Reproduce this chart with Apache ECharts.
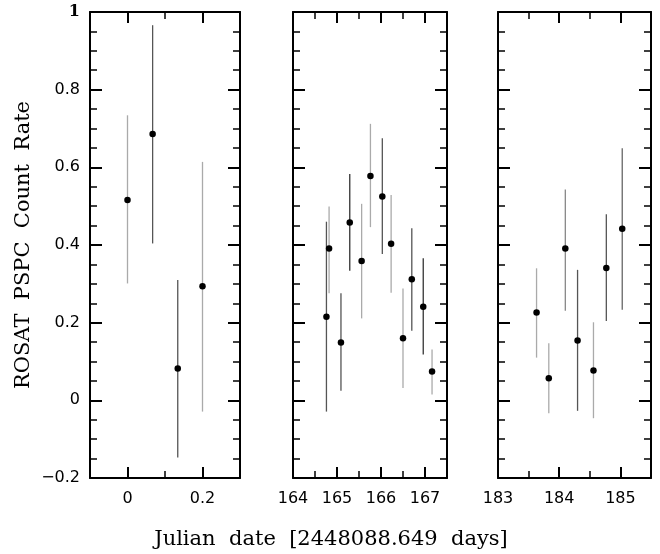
<!DOCTYPE html>
<html>
<head>
<meta charset="utf-8">
<script src="https://cdn.jsdelivr.net/npm/echarts@6/dist/echarts.min.js"></script>
<style>html,body{margin:0;padding:0;background:#fff}#c{width:660px;height:554px}</style>
</head>
<body>
<div id="c"></div>
<script>
// ---- data ----
const p1X  = [0, 0.067, 0.134, 0.2];
const p1Y  = [0.516, 0.686, 0.082, 0.294];
const p1Lo = [0.301, 0.404, -0.147, -0.029];
const p1Hi = [0.734, 0.966, 0.310, 0.614];

const p2X  = [164.76, 164.82, 165.09, 165.29, 165.56, 165.76, 166.03, 166.23, 166.50, 166.70, 166.96, 167.16];
const p2Y  = [0.215, 0.391, 0.149, 0.458, 0.359, 0.578, 0.525, 0.403, 0.160, 0.312, 0.241, 0.074];
const p2Lo = [-0.029, 0.276, 0.025, 0.334, 0.211, 0.446, 0.377, 0.277, 0.032, 0.179, 0.118, 0.015];
const p2Hi = [0.460, 0.499, 0.276, 0.583, 0.506, 0.712, 0.675, 0.529, 0.288, 0.443, 0.366, 0.131];

const p3X  = [183.63, 183.83, 184.10, 184.30, 184.56, 184.77, 185.03];
const p3Y  = [0.226, 0.057, 0.391, 0.154, 0.077, 0.341, 0.442];
const p3Lo = [0.110, -0.033, 0.231, -0.027, -0.046, 0.204, 0.233];
const p3Hi = [0.340, 0.147, 0.543, 0.336, 0.201, 0.479, 0.649];

const p1TickLabels = [0, 0.2];
const p2TickLabels = [164, 165, 166, 167];
const p3TickLabels = [183, 184, 185];
const yTickLabels = [-0.2, 0, 0.2, 0.4, 0.6, 0.8, 1];

const yTitle = 'ROSAT  PSPC  Count  Rate';
const xTitle = 'Julian  date  [2448088.649  days]';

// ---- styles ----
const p1Tone = ['#aaaaaa', '#555555', '#555555', '#aaaaaa'];
const p2Tone = ['#555555', '#aaaaaa', '#555555', '#333333', '#aaaaaa', '#aaaaaa', '#555555', '#aaaaaa', '#aaaaaa', '#555555', '#333333', '#aaaaaa'];
const p3Tone = ['#aaaaaa', '#aaaaaa', '#888888', '#555555', '#aaaaaa', '#555555', '#666666'];

const panels = [
  {x: p1X, y: p1Y, lo: p1Lo, hi: p1Hi, tone: p1Tone, labels: p1TickLabels, min: -0.1, max: 0.3, minorStep: 0.1, left: 90, width: 150},
  {x: p2X, y: p2Y, lo: p2Lo, hi: p2Hi, tone: p2Tone, labels: p2TickLabels, min: 164, max: 167.5, minorStep: 0.5, left: 293, width: 154},
  {x: p3X, y: p3Y, lo: p3Lo, hi: p3Hi, tone: p3Tone, labels: p3TickLabels, min: 183, max: 185.5, minorStep: 0.5, left: 498, width: 153}
];

const black = '#000';
const grids = [], xAxes = [], yAxes = [], series = [];
const fmtY = v => {
  if (v === 1) return '{b|1}';
  return v < 0 ? '\u2212' + Math.abs(v) : String(+v.toFixed(2));
};

panels.forEach((p, i) => {
  grids.push({left: p.left, width: p.width, top: 12, height: 466, show: false});
  const xBase = {gridIndex: i, type: 'value', min: p.min, max: p.max, splitLine: {show: false}, interval: p.minorStep};
  xAxes.push(Object.assign({}, xBase, {
    position: 'bottom',
    axisLine: {show: true, onZero: false, lineStyle: {color: black, width: 2}},
    axisTick: {show: true, inside: true, length: 7, lineStyle: {color: black, width: 1.5}},
    axisLabel: {show: true, customValues: p.labels, color: black, fontSize: 16, fontFamily: 'DejaVu Sans', margin: 13,
      formatter: v => String(+(+v).toFixed(2))}
  }));
  xAxes.push(Object.assign({}, xBase, {
    position: 'bottom',
    axisLine: {show: false, onZero: false},
    axisTick: {show: true, inside: true, length: 11, customValues: p.labels, lineStyle: {color: black, width: 2}},
    axisLabel: {show: false}
  }));
  xAxes.push(Object.assign({}, xBase, {
    position: 'top',
    axisLine: {show: true, onZero: false, lineStyle: {color: black, width: 2}},
    axisTick: {show: true, inside: true, length: 7, lineStyle: {color: black, width: 1.5}},
    axisLabel: {show: false}
  }));
  xAxes.push(Object.assign({}, xBase, {
    position: 'top',
    axisLine: {show: false, onZero: false},
    axisTick: {show: true, inside: true, length: 11, customValues: p.labels, lineStyle: {color: black, width: 2}},
    axisLabel: {show: false}
  }));
  ['left', 'right'].forEach(pos => {
    yAxes.push({
      gridIndex: i, type: 'value', min: -0.2, max: 1, interval: 0.2, position: pos,
      splitLine: {show: false},
      axisLine: {show: true, onZero: false, lineStyle: {color: black, width: 2}},
      axisTick: {show: true, inside: true, length: 12, lineStyle: {color: black, width: 2}},
      minorTick: {show: true, splitNumber: 4, length: 7, lineStyle: {color: black, width: 1.5}},
      axisLabel: (i === 0 && pos === 'left') ? {show: true, color: black, fontSize: 16, fontFamily: 'DejaVu Sans', margin: 10,
        customValues: yTickLabels, formatter: v => fmtY(+v),
        rich: {b: {fontWeight: 'bold', fontSize: 16, fontFamily: 'DejaVu Serif', color: black}}} : {show: false}
    });
  });
  const xi = i * 4, yi = i * 2;
  series.push({
    type: 'custom', xAxisIndex: xi, yAxisIndex: yi, silent: true,
    data: p.x.map((v, k) => [v, p.lo[k], p.hi[k]]),
    encode: {x: 0, y: [1, 2]},
    renderItem: (params, api) => {
      const a = api.coord([api.value(0), api.value(1)]);
      const b = api.coord([api.value(0), api.value(2)]);
      return {type: 'line', shape: {x1: a[0], y1: a[1], x2: b[0], y2: b[1]},
        style: {stroke: p.tone[params.dataIndex], lineWidth: 1.3}};
    }
  });
  series.push({
    type: 'scatter', xAxisIndex: xi, yAxisIndex: yi, silent: true, z: 5,
    symbol: 'circle', symbolSize: 6.5, itemStyle: {color: black, opacity: 1},
    data: p.x.map((v, k) => [v, p.y[k]])
  });
});

const chart = echarts.init(document.getElementById('c'), null, {renderer: 'canvas'});
chart.setOption({
  animation: false,
  backgroundColor: '#fff',
  grid: grids, xAxis: xAxes, yAxis: yAxes, series: series,
  graphic: [
    {type: 'text', x: 331, y: 540, style: {text: xTitle, fontFamily: 'DejaVu Serif', fontSize: 21, fill: black, align: 'center', verticalAlign: 'middle'}},
    {type: 'text', x: 24, y: 245, rotation: Math.PI / 2, style: {text: yTitle, fontFamily: 'DejaVu Serif', fontSize: 21, fill: black, align: 'center', verticalAlign: 'middle'}}
  ]
});
</script>
</body>
</html>
